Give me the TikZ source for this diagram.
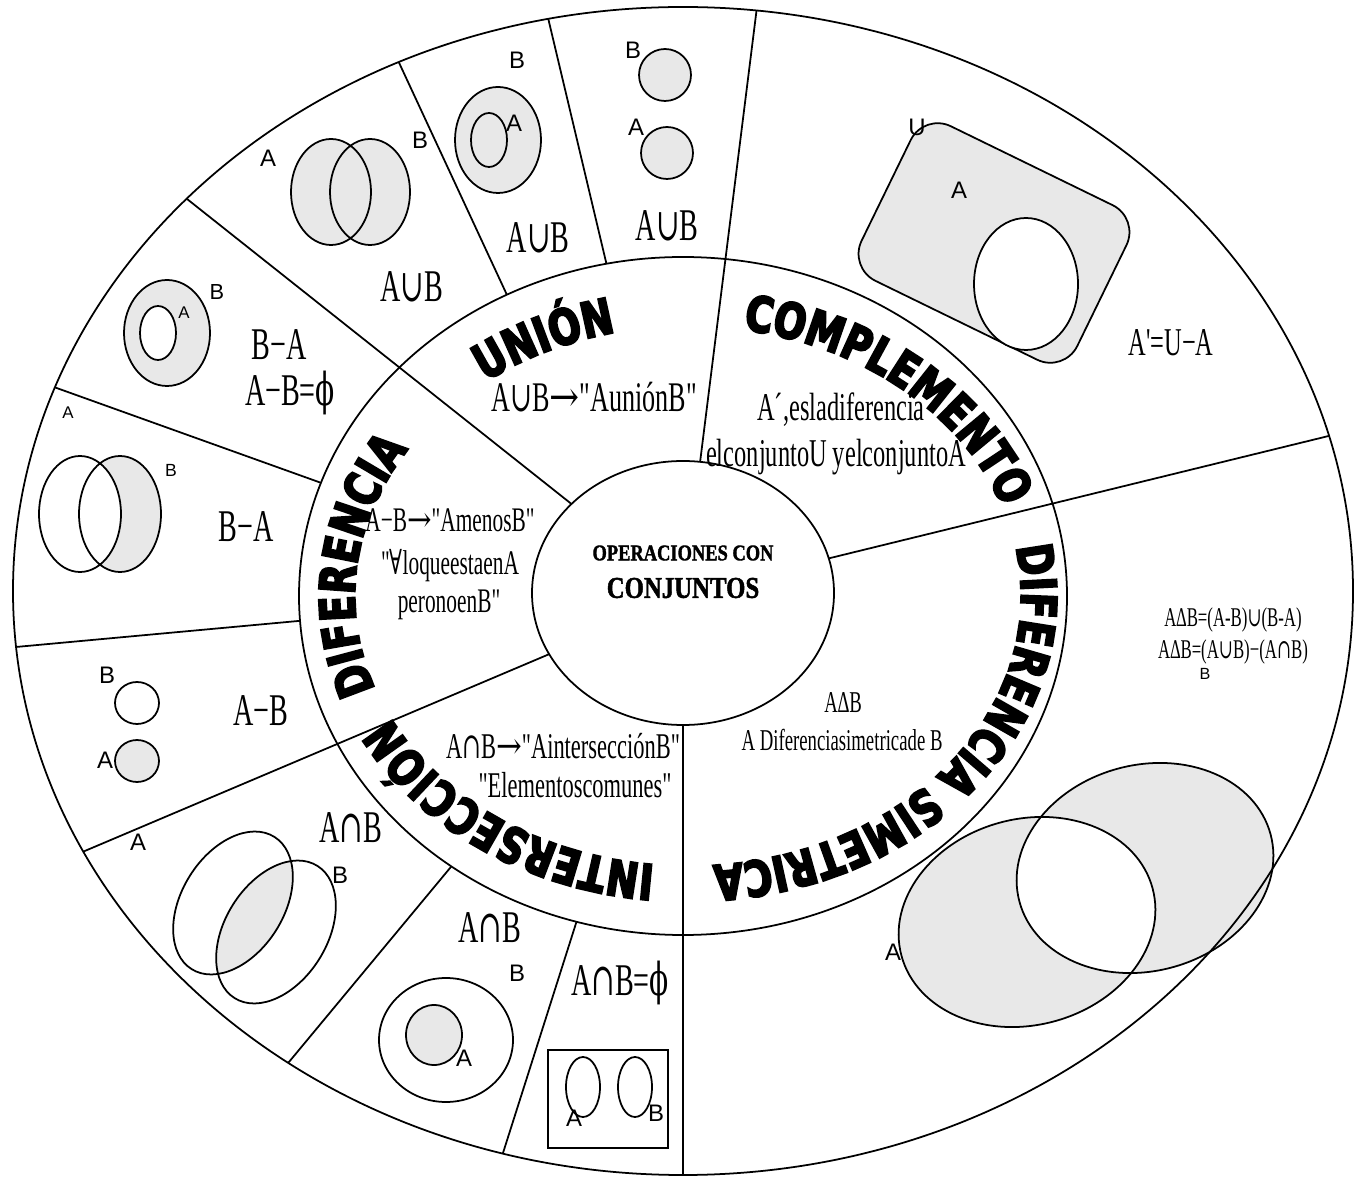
\documentclass[tikz,border=0pt]{standalone}
\usepackage{fontspec}
\usepackage{tikz}
\usetikzlibrary{calc}
\usetikzlibrary{decorations.text}

\setmainfont{Liberation Serif}
\newfontfamily\condfont{Liberation Serif}[FakeStretch=0.62]
\newfontfamily\condsym{DejaVu Serif}[FakeStretch=0.62]
\newfontfamily\arrowfont{DejaVu Serif}[FakeStretch=0.85]
\newfontfamily\lblfont{Liberation Sans}
\newfontfamily\titlefont{Liberation Serif Bold}[FakeStretch=0.82,FakeBold=1.5]
\newfontfamily\ringfont{DejaVu Sans Bold}[FakeStretch=0.77,FakeBold=4]

\definecolor{venngray}{RGB}{232,232,232}

\newcommand\un{{\condsym ∪}}
\newcommand\inter{{\condsym ∩}}
\newcommand\flecha{{\arrowfont →}}
\newcommand\paratodo{{\condsym ∀}}
\newcommand\vacio{{\condsym ϕ}}
\newcommand\difsim{∆}
\newcommand\ringstyle{\ringfont\fontsize{14}{14}\selectfont}

\begin{document}
\begin{tikzpicture}[x=0.01cm,y=0.01cm,line width=0.5pt,
    setfill/.style={fill=venngray},
    txt/.style={font={\condfont\fontsize{#1}{#1}\selectfont},inner sep=0pt},
    lbl/.style={font={\lblfont\fontsize{#1}{#1}\selectfont},inner sep=0pt},
    interA/.style={shift={(233,-903)},rotate=-32},
    interB/.style={shift={(276,-932)},rotate=-32},
    symA/.style={shift={(1027,-922)},rotate=15},
    symB/.style={shift={(1145,-868)},rotate=15},
    ringlbl/.style={decorate,decoration={text along path,text align=left,text={|\ringstyle|#1}}}]
    \useasboundingbox (0,0) rectangle (1364,-1180);

    \coordinate (O) at (683,-591);
    \coordinate (M) at (683,-596);
    \coordinate (I) at (683,-593);
    \coordinate (T) at (688,-596);

    % union
    \fill[venngray] (331,-192) ellipse (40 and 53) (370,-192) ellipse (40 and 53);
    \draw (331,-192) ellipse (40 and 53) (370,-192) ellipse (40 and 53);
    \draw[setfill] (498,-140) ellipse (43 and 53);
    \draw (489,-140) ellipse (18 and 27);
    \draw[setfill] (665,-75) circle (26);
    \draw[setfill] (667,-153) circle (26);

    % complement
    \begin{scope}[shift={(994,-243)},rotate=-26]
        \draw[setfill,rounded corners=0.3cm] (-120,-86) rectangle (120,86);
    \end{scope}
    \draw[fill=white] (1026,-284) ellipse (52 and 66);

    % difference
    \draw[setfill] (167,-333) ellipse (43 and 53);
    \draw[fill=white] (158,-333) ellipse (18 and 27);
    \fill[venngray] (120,-514) ellipse (41 and 58);
    \fill[white] (80,-514) ellipse (41 and 58);
    \draw (80,-514) ellipse (41 and 58) (120,-514) ellipse (41 and 58);
    \draw (137,-703) ellipse (22 and 21);
    \draw[setfill] (137,-761) ellipse (22 and 21);

    % intersection
    \begin{scope}
        \clip[interA] (0,0) ellipse (51 and 78);
        \fill[venngray,interB] (0,0) ellipse (51 and 78);
    \end{scope}
    \draw[interA] (0,0) ellipse (51 and 78);
    \draw[interB] (0,0) ellipse (51 and 78);
    \draw (446,-1040) ellipse (67 and 62);
    \draw[setfill] (434,-1035) ellipse (28 and 30);
    \draw (548,-1050) rectangle (668,-1148);
    \draw (583,-1087) ellipse (17 and 30);
    \draw (635,-1087) ellipse (17 and 30);

    % symmetric difference
    \fill[venngray,symA] (0,0) ellipse (130 and 103);
    \fill[venngray,symB] (0,0) ellipse (130 and 103);
    \begin{scope}
        \clip[symA] (0,0) ellipse (130 and 103);
        \fill[white,symB] (0,0) ellipse (130 and 103);
    \end{scope}
    \draw[symA] (0,0) ellipse (130 and 103);
    \draw[symB] (0,0) ellipse (130 and 103);

    % wheel
    \draw (O) ellipse (670 and 584);
    \draw (M) ellipse (384 and 339);
    \draw (I) ellipse (151 and 132);

    \coordinate (i1) at ($(I)+(137.6:151 and 132)$);
    \coordinate (o1) at ($(O)+(137.8:670 and 584)$);
    \coordinate (i2) at ($(I)+(83.5:151 and 132)$);
    \coordinate (o2) at ($(O)+(83.7:670 and 584)$);
    \coordinate (i3) at ($(I)+(15.2:151 and 132)$);
    \coordinate (o3) at ($(O)+(15.4:670 and 584)$);
    \coordinate (i4) at ($(I)+(-90:151 and 132)$);
    \coordinate (o4) at ($(O)+(-90:670 and 584)$);
    \coordinate (i5) at ($(I)+(207.6:151 and 132)$);
    \coordinate (o5) at ($(O)+(206.5:670 and 584)$);
    \draw (i1) -- (o1);
    \draw (i2) -- (o2);
    \draw (i3) -- (o3);
    \draw (i4) -- (o4);
    \draw (i5) -- (o5);

    \coordinate (m6) at ($(M)+(117.3:384 and 339)$);
    \coordinate (o6) at ($(O)+(115.1:670 and 584)$);
    \coordinate (m7) at ($(M)+(101.5:384 and 339)$);
    \coordinate (o7) at ($(O)+(101.6:670 and 584)$);
    \coordinate (m8) at ($(M)+(160.5:384 and 339)$);
    \coordinate (o8) at ($(O)+(159.6:670 and 584)$);
    \coordinate (m9) at ($(M)+(184.2:384 and 339)$);
    \coordinate (o9) at ($(O)+(185.5:670 and 584)$);
    \coordinate (m10) at ($(M)+(232.9:384 and 339)$);
    \coordinate (o10) at ($(O)+(233.9:670 and 584)$);
    \coordinate (m11) at ($(M)+(253.9:384 and 339)$);
    \coordinate (o11) at ($(O)+(254.4:670 and 584)$);
    \draw (m6) -- (o6);
    \draw (m7) -- (o7);
    \draw (m8) -- (o8);
    \draw (m9) -- (o9);
    \draw (m10) -- (o10);
    \draw (m11) -- (o11);

    % ring titles
    \path[ringlbl=UNIÓN] ($(T)+(127.5:333 and 270)$) arc[start angle=127.5,end angle=27.5,x radius=333,y radius=270];
    \path[ringlbl=COMPLEMENTO] ($(T)+(80.5:333 and 270)$) arc[start angle=80.5,end angle=-60,x radius=333,y radius=270];
    \path[ringlbl=DIFERENCIA SIMETRICA] ($(T)+(10.5:333 and 270)$) arc[start angle=10.5,end angle=-170,x radius=333,y radius=270];
    \path[ringlbl=INTERSECCIÓN] ($(T)+(264.3:333 and 270)$) arc[start angle=264.3,end angle=124,x radius=333,y radius=270];
    \path[ringlbl=DIFERENCIA] ($(T)+(200.2:333 and 270)$) arc[start angle=200.2,end angle=60,x radius=333,y radius=270];

    \node[font={\titlefont\fontsize{6.4}{7}\selectfont}] (tit1) at (683,-553) {OPERACIONES CON};
    \node[font={\titlefont\fontsize{8.6}{9}\selectfont}] (tit2) at (683,-588) {CONJUNTOS};

    \node[txt=12] (udef) at (594,-397) {A\un B\flecha"AuniónB"};
    \node[txt=11.2] (cdef1) at (841,-410) {A´,esladiferencia};
    \node[txt=11.2] (cdef2) at (836,-457) {elconjuntoU yelconjuntoA};
    \node[txt=9.8] (ddef1) at (450,-520) {A−B\flecha"AmenosB"};
    \node[txt=9.8] (ddef2) at (450,-566) {"\paratodo loqueestaenA};
    \node[txt=9.8] (ddef3) at (449,-605) {peronoenB"};
    \node[txt=10.3] (idef1) at (563,-746) {A\inter B\flecha"AintersecciónB"};
    \node[txt=10.3] (idef2) at (575,-785) {"Elementoscomunes"};
    \node[txt=8.6] (sdef1) at (843,-703) {A\difsim B};
    \node[txt=8.6] (sdef2) at (842,-740) {A Diferenciasimetricade B};

    \node[txt=12.9] (ub1) at (412,-287) {A\un B};
    \node[txt=12.9] (ub2) at (538,-238) {A\un B};
    \node[txt=12.9] (ub3) at (667,-226) {A\un B};
    \node[txt=12.9] (ba1) at (279,-345) {B−A};
    \node[txt=12.9] (ab0) at (290,-393) {A−B=\vacio};
    \node[txt=12.9] (ba2) at (246,-527) {B−A};
    \node[txt=12.9] (ab1) at (261,-711) {A−B};
    \node[txt=12.9] (ib1) at (351,-828) {A\inter B};
    \node[txt=12.9] (ib2) at (490,-928) {A\inter B};
    \node[txt=12.9] (ib3) at (620,-983) {A\inter B=\vacio};
    \node[txt=11.2] (comp) at (1171,-343) {A'=U−A};
    \node[txt=7.7] (sdf1) at (1233,-620) {A\difsim B=(A-B)\un(B-A)};
    \node[txt=7.7] (sdf2) at (1233,-652) {A\difsim B=(A\un B)−(A\inter B)};

    \node[lbl=6.8] (la1) at (268,-158) {A};
    \node[lbl=6.8] (lb1) at (420,-140) {B};
    \node[lbl=6.8] (lb2) at (517,-60) {B};
    \node[lbl=6.8] (la2) at (514,-123) {A};
    \node[lbl=6.8] (lb3) at (633,-50) {B};
    \node[lbl=6.8] (la3) at (636,-127) {A};
    \node[lbl=6.8] (lu) at (917,-127) {U};
    \node[lbl=6.8] (la4) at (959,-190) {A};
    \node[lbl=6.2] (lb5) at (217,-292) {B};
    \node[lbl=4.8] (la5) at (184,-313) {A};
    \node[lbl=4.8] (la6) at (68,-413) {A};
    \node[lbl=5] (lb6) at (171,-470) {B};
    \node[lbl=6.8] (lb7) at (107,-675) {B};
    \node[lbl=6.8] (la7) at (105,-760) {A};
    \node[lbl=6.8] (la8) at (138,-842) {A};
    \node[lbl=6.8] (lb8) at (340,-875) {B};
    \node[lbl=6.8] (lb9) at (517,-973) {B};
    \node[lbl=6.8] (la9) at (464,-1058) {A};
    \node[lbl=6.8] (la10) at (574,-1118) {A};
    \node[lbl=6.8] (lb10) at (656,-1113) {B};
    \node[lbl=6.8] (la11) at (893,-952) {A};
    \node[lbl=4.6] (lb11) at (1205,-674) {B};
\end{tikzpicture}
\end{document}
